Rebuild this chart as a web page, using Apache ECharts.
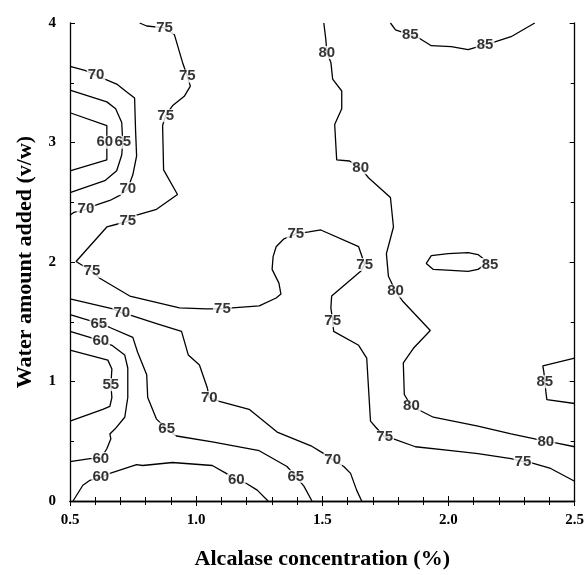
<!DOCTYPE html>
<html>
<head>
<meta charset="utf-8">
<script src="https://cdn.jsdelivr.net/npm/echarts@6/dist/echarts.min.js"></script>
<style>html,body{margin:0;padding:0;background:#fff}#c{width:587px;height:575px}</style>
</head>
<body>
<div id="c"></div>
<script>
// Axis ranges / ticks
const xTicks = [0.5, 1.0, 1.5, 2.0, 2.5];
const yTicks = [0, 1, 2, 3, 4];

// Contour lines (Alcalase concentration %, Water amount v/w)
const c75 = [[0.776,4.0],[0.804,3.975],[0.875,3.959],[0.914,3.901],[0.946,3.670],[0.965,3.555],[0.977,3.472],[0.954,3.390],[0.906,3.307],[0.879,3.225],[0.867,3.142],[0.871,2.771],[0.926,2.565],[0.843,2.441],[0.764,2.392],[0.729,2.342],[0.689,2.318],[0.646,2.293],[0.524,2.004],[0.587,1.922],[0.618,1.864],[0.737,1.715],[0.934,1.616],[1.040,1.608],[1.104,1.608],[1.143,1.616],[1.250,1.633],[1.317,1.699],[1.336,1.732],[1.328,1.823],[1.301,1.938],[1.305,2.045],[1.317,2.128],[1.348,2.194],[1.395,2.235],[1.447,2.252],[1.494,2.268],[1.644,2.128],[1.668,1.979],[1.652,1.922],[1.537,1.715],[1.534,1.616],[1.541,1.509],[1.545,1.419],[1.644,1.303],[1.676,1.196],[1.683,0.948],[1.691,0.668],[1.711,0.619],[1.747,0.536],[1.782,0.520],[1.869,0.454],[2.011,0.421],[2.117,0.396],[2.248,0.355],[2.295,0.330],[2.326,0.322],[2.405,0.272],[2.5,0.165]];
const c80 = [[1.506,4.0],[1.514,3.860],[1.518,3.753],[1.534,3.670],[1.541,3.530],[1.577,3.431],[1.577,3.282],[1.549,3.151],[1.557,2.854],[1.608,2.845],[1.652,2.788],[1.683,2.705],[1.770,2.540],[1.782,2.293],[1.754,2.070],[1.762,1.880],[1.790,1.757],[1.818,1.674],[1.928,1.427],[1.861,1.278],[1.821,1.155],[1.825,0.891],[1.853,0.792],[1.893,0.751],[1.940,0.701],[2.117,0.627],[2.248,0.561],[2.342,0.520],[2.386,0.495],[2.425,0.487],[2.5,0.454]];
const c85top = [[1.770,4.0],[1.790,3.942],[1.849,3.901],[1.881,3.876],[1.932,3.810],[2.011,3.802],[2.078,3.777],[2.145,3.819],[2.184,3.843],[2.248,3.885],[2.342,4.0]];
const c85island = [[1.932,2.054],[1.999,2.070],[2.078,2.078],[2.117,2.062],[2.157,1.996],[2.117,1.938],[2.078,1.922],[2.011,1.930],[1.940,1.938],[1.912,1.988],[1.932,2.054]];
const c85right = [[2.5,1.196],[2.374,1.130],[2.378,1.080],[2.382,0.998],[2.386,0.915],[2.390,0.849],[2.5,0.816]];
const c70upper = [[0.5,3.637],[0.559,3.604],[0.603,3.563],[0.638,3.530],[0.685,3.489],[0.725,3.423],[0.756,3.373],[0.760,3.093],[0.764,2.887],[0.749,2.730],[0.729,2.614],[0.697,2.557],[0.658,2.515],[0.599,2.474],[0.563,2.441],[0.516,2.416],[0.5,2.392]];
const c65upper = [[0.5,3.439],[0.646,3.340],[0.681,3.282],[0.705,3.167],[0.709,3.002],[0.705,2.895],[0.685,2.763],[0.638,2.680],[0.5,2.581]];
const c60upper = [[0.5,3.249],[0.646,3.142],[0.646,3.002],[0.646,2.854],[0.5,2.763]];
const c70lower = [[0.5,1.691],[0.670,1.608],[0.705,1.575],[0.745,1.551],[0.843,1.485],[0.942,1.419],[0.969,1.221],[1.013,1.138],[1.044,0.948],[1.052,0.866],[1.092,0.833],[1.210,0.767],[1.321,0.577],[1.455,0.462],[1.506,0.396],[1.541,0.346],[1.585,0.289],[1.612,0.231],[1.636,0.091],[1.656,0]];
const c65lower = [[0.5,1.559],[0.579,1.509],[0.614,1.485],[0.658,1.452],[0.749,1.369],[0.768,1.245],[0.804,1.056],[0.808,0.866],[0.843,0.685],[0.883,0.602],[0.922,0.544],[1.064,0.495],[1.250,0.421],[1.360,0.289],[1.395,0.206],[1.427,0.124],[1.459,0]];
const c60inner = [[0.5,1.419],[0.579,1.369],[0.622,1.336],[0.666,1.303],[0.717,1.221],[0.729,1.113],[0.729,0.866],[0.717,0.701],[0.678,0.602],[0.658,0.561],[0.662,0.520],[0.646,0.437],[0.622,0.355],[0.579,0.355],[0.5,0.330]];
const c55 = [[0.5,1.262],[0.650,1.179],[0.666,1.105],[0.662,0.973],[0.666,0.866],[0.658,0.792],[0.630,0.767],[0.5,0.668]];
const c60bottom = [[0.512,0],[0.551,0.132],[0.579,0.173],[0.622,0.198],[0.658,0.231],[0.764,0.305],[0.788,0.297],[0.906,0.322],[1.064,0.297],[1.119,0.231],[1.159,0.173],[1.198,0.148],[1.242,0.091],[1.285,0]];

// Contour label positions, per level
const labels75 = [[0.875,3.959],[0.965,3.555],[0.879,3.225],[0.729,2.342],[0.587,1.922],[1.104,1.608],[1.395,2.235],[1.668,1.979],[1.541,1.509],[1.747,0.536],[2.295,0.330]];
const labels80 = [[1.518,3.753],[1.652,2.788],[1.790,1.757],[1.853,0.792],[2.386,0.495]];
const labels85 = [[1.849,3.901],[2.145,3.819],[2.165,1.979],[2.382,0.998]];
const labels70 = [[0.603,3.563],[0.729,2.614],[0.563,2.441],[0.705,1.575],[1.052,0.866],[1.541,0.346]];
const labels65 = [[0.709,3.002],[0.614,1.485],[0.883,0.602],[1.395,0.206]];
const labels60 = [[0.638,3.002],[0.622,1.336],[0.622,0.355],[0.622,0.198],[1.159,0.173]];
const labels55 = [[0.662,0.973]];

const lines = [c75,c80,c85top,c85island,c85right,c70upper,c65upper,c60upper,c70lower,c65lower,c60inner,c55,c60bottom];
const labelSets = [['75',labels75],['80',labels80],['85',labels85],['70',labels70],['65',labels65],['60',labels60],['55',labels55]];

const serif = '"Liberation Serif","Times New Roman",serif';
const sans = '"Liberation Sans",Arial,sans-serif';

const series = [];
lines.forEach(d => series.push({
  type:'line', data:d, symbol:'none', smooth:false, silent:true, z:2,
  lineStyle:{color:'#000', width:1.3}
}));
labelSets.forEach(([txt, d]) => series.push({
  type:'scatter', data:d, symbolSize:0, silent:true, z:4,
  label:{show:true, position:'inside', formatter:txt, color:'#000',
    fontFamily:sans, fontWeight:'bold', fontSize:15, backgroundColor:'#fff', padding:[0,1], lineHeight:13}
}));

const xCommon = {
  type:'value', min:xTicks[0], max:xTicks[xTicks.length-1], interval:0.5, z:10,
  axisLine:{show:true, lineStyle:{color:'#000', width:1.3}},
  axisTick:{show:true, inside:true, length:5, lineStyle:{color:'#000'}},
  minorTick:{show:true, splitNumber:5, length:4, lineStyle:{color:'#000'}},
  splitLine:{show:false}, minorSplitLine:{show:false}
};
const yCommon = {
  type:'value', min:yTicks[0], max:yTicks[yTicks.length-1], interval:1, z:10,
  axisLine:{show:true, lineStyle:{color:'#000', width:1.3}},
  axisTick:{show:true, inside:true, length:5, lineStyle:{color:'#000'}},
  minorTick:{show:true, splitNumber:2, length:4, lineStyle:{color:'#000'}},
  splitLine:{show:false}, minorSplitLine:{show:false}
};

const chart = echarts.init(document.getElementById('c'), null, {renderer:'canvas'});
chart.setOption({
  backgroundColor:'#fff',
  animation:false,
  grid:{left:70, right:10, top:23, bottom:67, containLabel:false},
  xAxis:[
    Object.assign({}, xCommon, {position:'bottom',
      name:'Alcalase concentration (%)', nameLocation:'middle', nameGap:47,
      nameTextStyle:{fontFamily:serif, fontWeight:'bold', fontSize:22, color:'#000'},
      axisLabel:{show:true, margin:12, color:'#000', fontFamily:serif, fontWeight:'bold', fontSize:15,
        formatter:v => v.toFixed(1)}}),
    Object.assign({}, xCommon, {position:'top', axisLabel:{show:false}})
  ],
  yAxis:[
    Object.assign({}, yCommon, {position:'left',
      name:'Water amount added (v/w)', nameLocation:'middle', nameGap:34,
      nameTextStyle:{fontFamily:serif, fontWeight:'bold', fontSize:22, color:'#000'},
      axisLabel:{show:true, margin:14, color:'#000', fontFamily:serif, fontWeight:'bold', fontSize:15}}),
    Object.assign({}, yCommon, {position:'right', axisLabel:{show:false}})
  ],
  series:series
});
</script>
</body>
</html>
